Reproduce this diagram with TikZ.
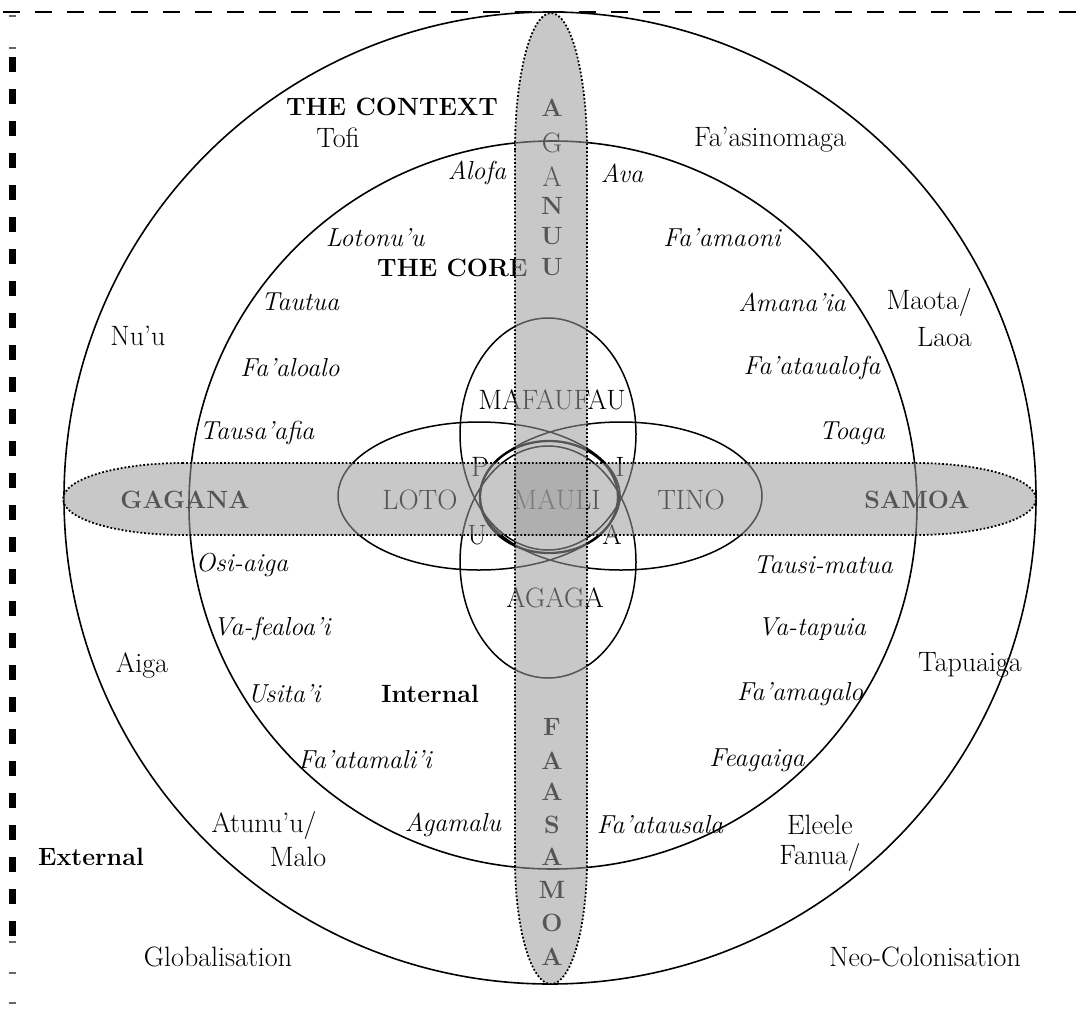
\documentclass[tikz,border=0pt]{standalone}
\definecolor{bandgray}{RGB}{155,155,155}
\begin{document}
\begin{tikzpicture}[x=1pt,y=-1pt,
  every node/.style={font=\fontsize{28}{32}\selectfont, inner sep=0pt},
  itl/.style={font=\fontsize{26}{30}\selectfont\itshape},
  bld/.style={font=\fontsize{25}{30}\selectfont\bfseries},
  ring/.style={draw=black, line width=1.6pt},
  petal/.style={draw=black, line width=1.5pt},
  core/.style={draw=black, line width=2.3pt},
  band/.style={fill=bandgray, fill opacity=0.55},
  bandedge/.style={draw=black, line width=1.8pt, dotted},
  frametop/.style={draw=black, line width=2.5pt, dash pattern=on 17pt off 15pt},
  frameleft/.style={draw=black, line width=7pt, dash pattern=on 15pt off 17pt},
  tick/.style={draw=black!60, line width=2pt}]
\useasboundingbox (0,0) rectangle (1084,1015);

% frame
\coordinate (ft1) at (3,12);
\coordinate (ft2) at (1084,12);
\draw[frametop] (ft1) -- (ft2);
\coordinate (fl1) at (12.5,57);
\coordinate (fl2) at (12.5,937);
\draw[frameleft] (fl1) -- (fl2);
\foreach \yy in {16,48,942,973,1003}{\draw[tick] (9,\yy) -- (16,\yy);}

% rings
\draw[ring] (550,498) circle[radius=486pt];
\draw[ring] (553,505) circle[radius=364pt];

% petals
\draw[petal] (548,434) ellipse[x radius=88pt, y radius=116pt];
\draw[petal] (548,562) ellipse[x radius=88pt, y radius=116pt];
\draw[petal] (479,496) ellipse[x radius=141pt, y radius=74pt];
\draw[petal] (621,496) ellipse[x radius=141pt, y radius=74pt];
\draw[core] (549,497) ellipse[x radius=69pt, y radius=56pt];

% labels outer ring
\node[bld] (ctx) at (392,107) {THE CONTEXT};
\node (tofi) at (338,138) {Tofi};
\node (fasi) at (770,140) {Fa’asinomaga};
\node (nuu) at (138,336) {Nu’u};
\node[anchor=east] (maota) at (972,302) {Maota/};
\node[anchor=east] (laoa) at (972,337) {Laoa};
\node (aiga) at (142,665) {Aiga};
\node (tapu) at (970,665) {Tapuaiga};
\node (atun) at (264,825) {Atunu’u/};
\node (malo) at (298,857) {Malo};
\node (elee) at (820,825) {Eleele};
\node (fanu) at (820,857) {Fanua/};
\node[bld] (ext) at (91,857) {External};
\node (glob) at (218,957) {Globalisation};
\node (neo) at (925,957) {Neo-Colonisation};

% labels inner ring
\node[itl] (alofa) at (477,173) {Alofa};
\node[itl] (ava) at (622,173) {Ava};
\node[itl] (loton) at (375,238) {Lotonu’u};
\node[itl] (famao) at (722,238) {Fa’amaoni};
\node[bld, anchor=west] (thecore) at (377,268) {THE CORE};
\node[itl] (tautua) at (300,302) {Tautua};
\node[itl] (amana) at (792,302) {Amana’ia};
\node[itl] (faalo) at (290,368) {Fa’aloalo};
\node[itl] (fatau) at (812,368) {Fa’ataualofa};
\node[itl] (tausa) at (257,433) {Tausa’afia};
\node[itl] (toaga) at (852,433) {Toaga};
\node[itl] (osi) at (242,565) {Osi-aiga};
\node[itl] (tausi) at (823,565) {Tausi-matua};
\node[itl] (vafe) at (272,629) {Va-fealoa’i};
\node[itl] (vata) at (812,629) {Va-tapuia};
\node[itl] (usit) at (284,694) {Usita’i};
\node[bld] (intl) at (430,694) {Internal};
\node[itl] (famag) at (800,694) {Fa’amagalo};
\node[itl] (fatam) at (365,760) {Fa’atamali’i};
\node[itl] (feag) at (757,760) {Feagaiga};
\node[itl] (agam) at (453,825) {Agamalu};
\node[itl] (fatsa) at (660,825) {Fa’atausala};

% core labels
\node (mafa) at (552,400) {MAFAUFAU};
\node (loto) at (420,500) {LOTO};
\node (mauli) at (557,500) {MAULI};
\node (tino) at (691,500) {TINO};
\node (pp) at (480,467) {P};
\node (ii) at (620,467) {I};
\node (uu) at (477,535) {U};
\node (aa) at (612,535) {A};
\node (agaga) at (555,598) {AGAGA};

% band letters
\node[bld] (gag) at (185,500) {GAGANA};
\node[bld] (sam) at (917,500) {SAMOA};
\node[bld] (t1) at (552,108) {A};
\node (t2) at (552,143) {G};
\node (t3) at (552,177) {A};
\node[bld] (t4) at (552,206) {N};
\node[bld] (t5) at (552,236) {U};
\node[bld] (t6) at (552,267) {U};
\node[bld] (b1) at (552,727) {F};
\node[bld] (b2) at (552,761) {A};
\node[bld] (b3) at (552,792) {A};
\node[bld] (b4) at (552,825) {S};
\node[bld] (b5) at (552,857) {A};
\node[bld] (b6) at (552,890) {M};
\node[bld] (b7) at (552,923) {O};
\node[bld] (b8) at (552,957) {A};

% bands
\path[band] (183,463) arc[start angle=90,end angle=270,x radius=120pt,y radius=36pt]
  -- (916,535) arc[start angle=-90,end angle=90,x radius=120pt,y radius=36pt] -- cycle;
\path[band] (515,150) arc[start angle=180,end angle=0,x radius=36pt,y radius=137pt]
  -- (587,860) arc[start angle=0,end angle=-180,x radius=36pt,y radius=124pt] -- cycle;
\path[bandedge] (183,463) arc[start angle=90,end angle=270,x radius=120pt,y radius=36pt]
  -- (916,535) arc[start angle=-90,end angle=90,x radius=120pt,y radius=36pt] -- cycle;
\path[bandedge] (515,150) arc[start angle=180,end angle=0,x radius=36pt,y radius=137pt]
  -- (587,860) arc[start angle=0,end angle=-180,x radius=36pt,y radius=124pt] -- cycle;
\end{tikzpicture}
\end{document}
